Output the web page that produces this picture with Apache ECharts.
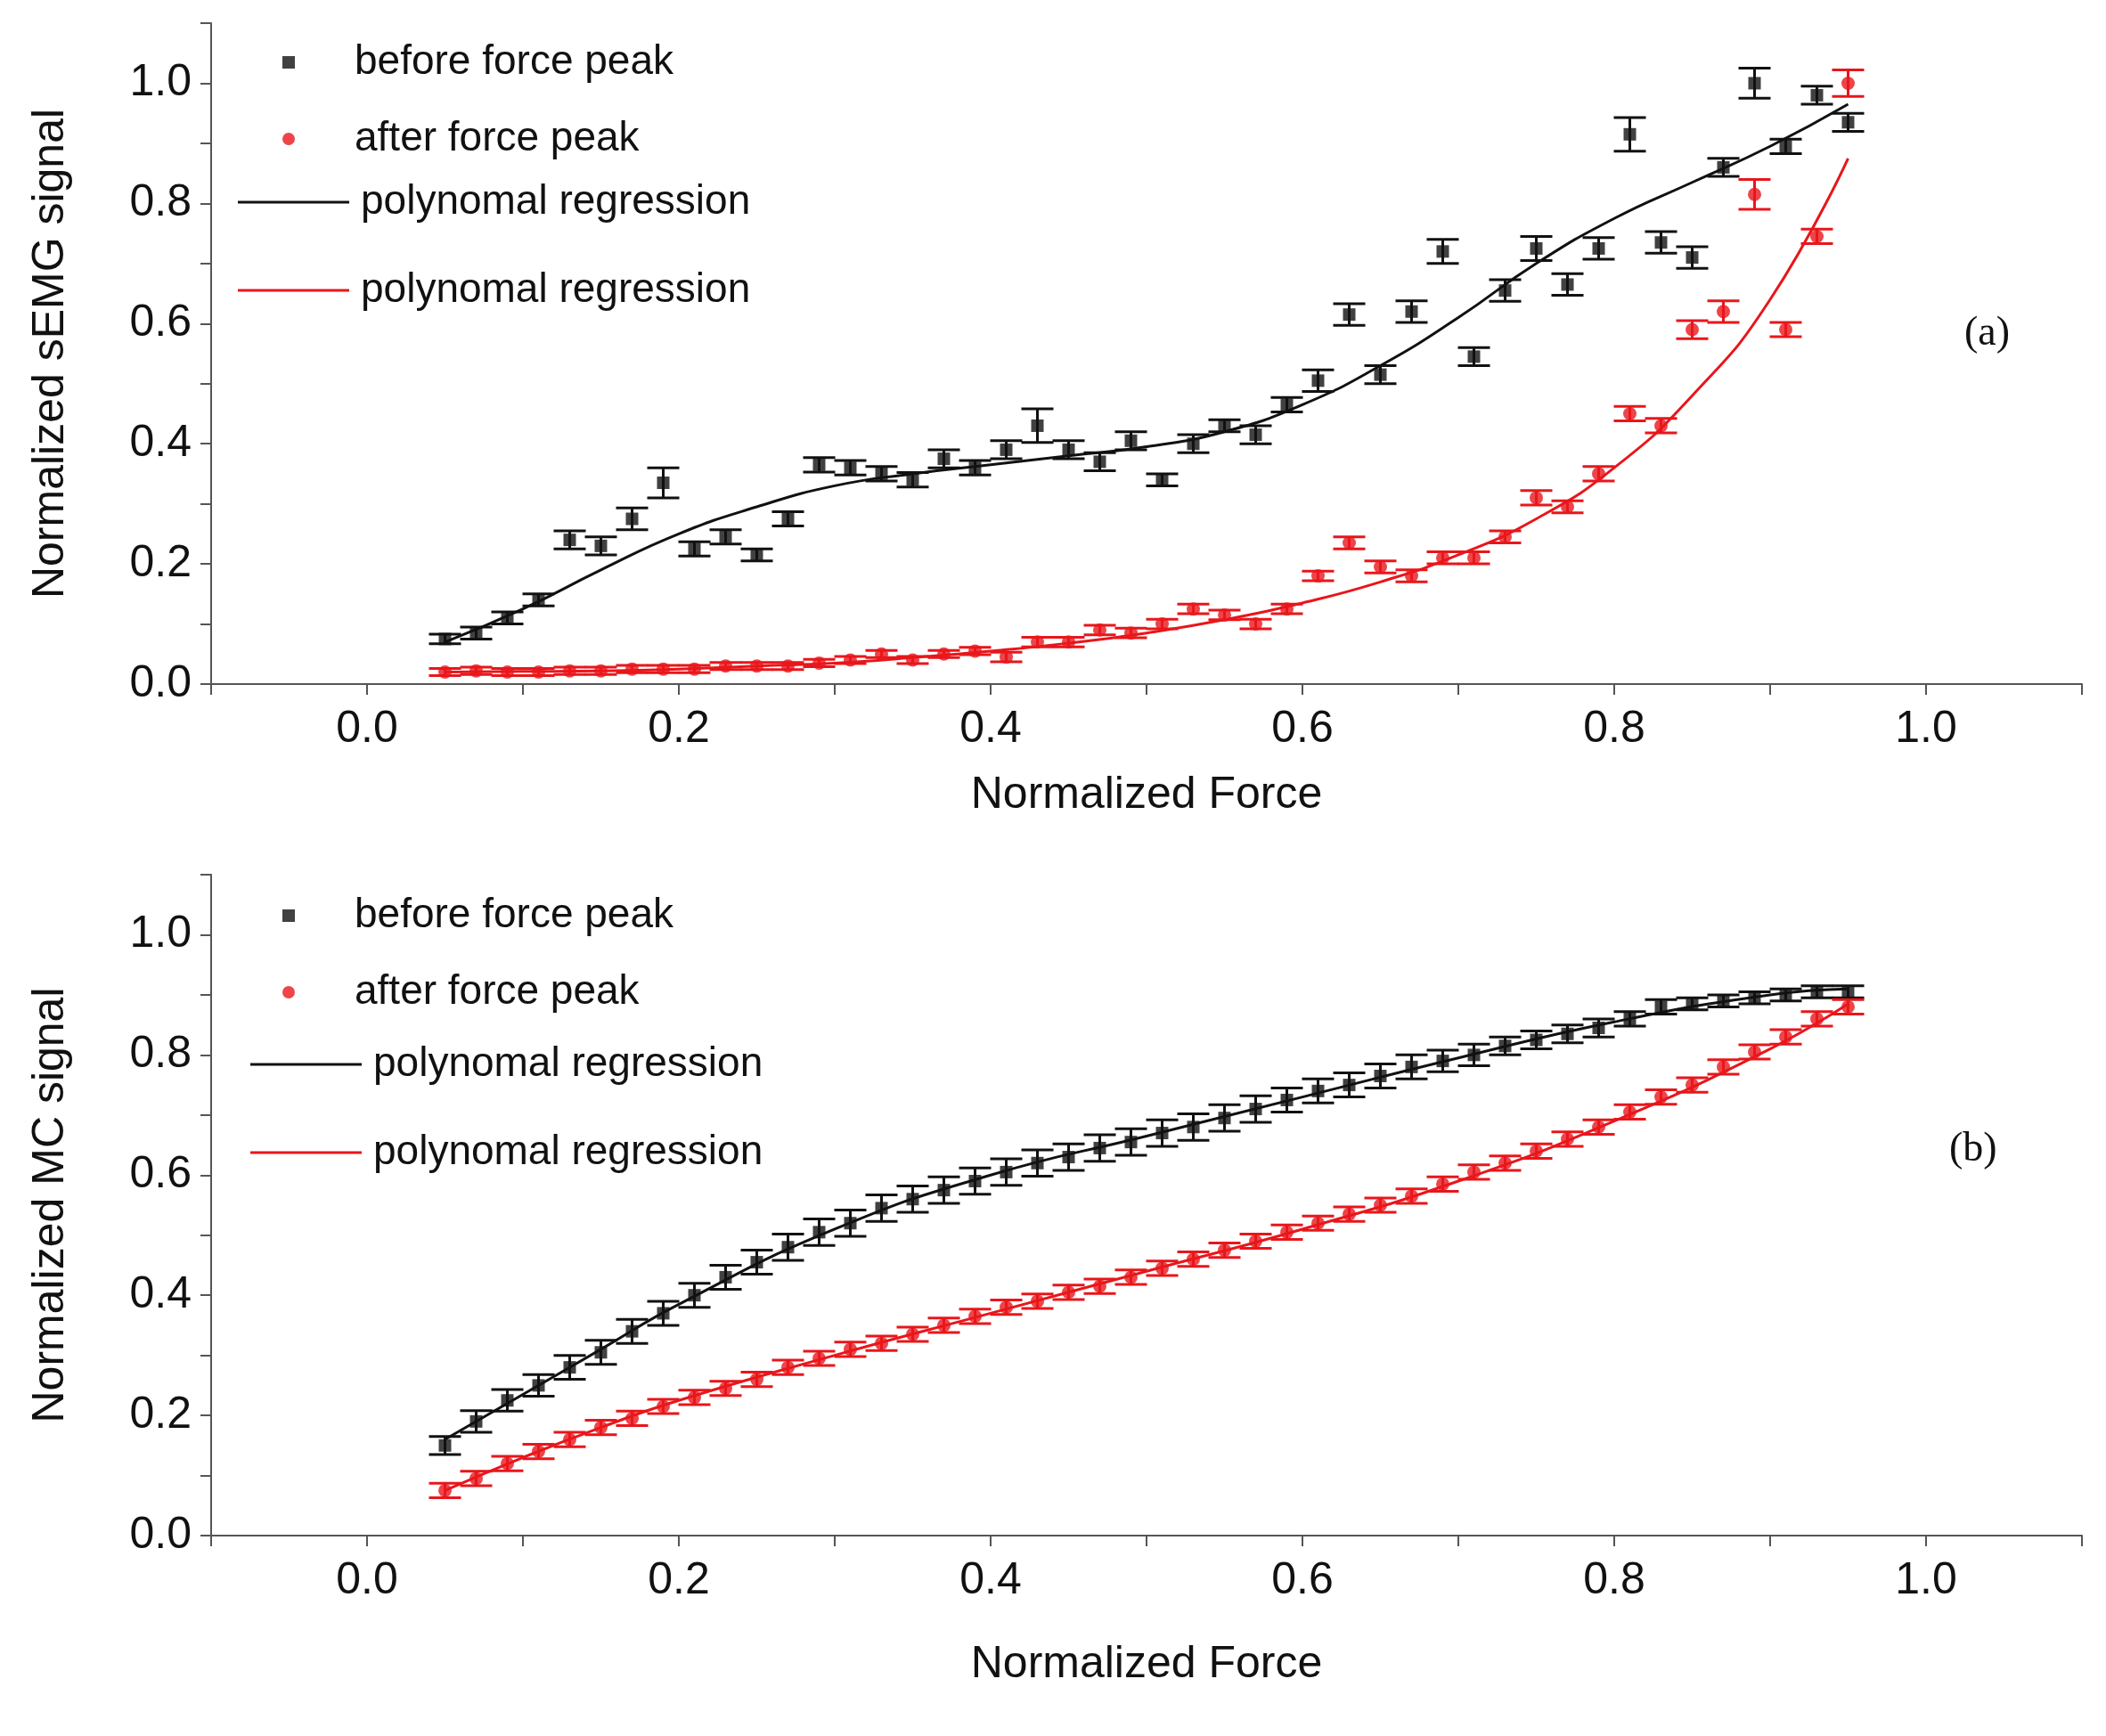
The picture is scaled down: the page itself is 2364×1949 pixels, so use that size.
<!DOCTYPE html>
<html>
<head>
<meta charset="utf-8">
<script src="https://cdn.jsdelivr.net/npm/echarts@6/dist/echarts.min.js"></script>
<style>html,body{margin:0;background:#fff}#chart{width:2364px;height:1949px}</style>
</head>
<body>
<div id="chart"></div>
<script>
var forceX = [0.05,0.07,0.09,0.11,0.13,0.15,0.17,0.19,0.21,0.23,0.25,0.27,0.29,0.31,0.33,0.35,0.37,0.39,0.41,0.43,0.45,0.47,0.49,0.51,0.53,0.55,0.57,0.59,0.61,0.63,0.65,0.67,0.69,0.71,0.73,0.75,0.77,0.79,0.81,0.83,0.85,0.87,0.89,0.91,0.93,0.95];

// panel (a) sEMG
var semgBefore = [0.075,0.085,0.11,0.14,0.24,0.23,0.275,0.335,0.225,0.245,0.215,0.275,0.365,0.36,0.35,0.34,0.375,0.36,0.39,0.43,0.39,0.37,0.405,0.34,0.40,0.43,0.415,0.465,0.505,0.615,0.515,0.62,0.72,0.545,0.655,0.725,0.665,0.725,0.915,0.735,0.71,0.86,1.0,0.895,0.98,0.935];
var semgBeforeErr = [0.008,0.01,0.01,0.01,0.015,0.015,0.018,0.025,0.012,0.012,0.01,0.012,0.012,0.012,0.012,0.012,0.015,0.012,0.015,0.028,0.015,0.015,0.015,0.01,0.015,0.01,0.015,0.012,0.018,0.018,0.015,0.018,0.02,0.015,0.018,0.02,0.018,0.018,0.028,0.018,0.018,0.015,0.025,0.012,0.015,0.015];
var semgAfter = [0.02,0.022,0.02,0.02,0.022,0.022,0.025,0.025,0.025,0.03,0.03,0.03,0.035,0.04,0.05,0.04,0.05,0.055,0.045,0.07,0.07,0.09,0.085,0.10,0.125,0.115,0.10,0.125,0.18,0.235,0.195,0.18,0.21,0.21,0.245,0.31,0.295,0.35,0.45,0.43,0.59,0.62,0.815,0.59,0.745,1.0];
var semgAfterErr = [0.006,0.006,0.006,0.006,0.006,0.006,0.006,0.006,0.006,0.006,0.006,0.006,0.006,0.006,0.006,0.006,0.006,0.006,0.008,0.008,0.008,0.008,0.008,0.008,0.008,0.008,0.008,0.008,0.008,0.01,0.01,0.01,0.01,0.01,0.01,0.012,0.01,0.012,0.012,0.012,0.015,0.018,0.025,0.012,0.012,0.022];
var semgFitX = [0.05,0.1,0.15,0.2,0.25,0.3,0.35,0.4,0.45,0.5,0.55,0.6,0.65,0.7,0.75,0.8,0.85,0.9,0.95];
var semgFitBefore = [0.07,0.125,0.19,0.25,0.295,0.33,0.35,0.365,0.38,0.395,0.42,0.465,0.53,0.61,0.70,0.775,0.835,0.895,0.965];
var semgFitAfter = [0.02,0.021,0.022,0.025,0.03,0.035,0.044,0.055,0.068,0.085,0.107,0.135,0.17,0.215,0.275,0.36,0.48,0.64,0.875];

// panel (b) MC
var mcBefore = [0.15,0.19,0.225,0.25,0.28,0.305,0.34,0.37,0.40,0.43,0.455,0.48,0.505,0.52,0.545,0.56,0.575,0.59,0.605,0.62,0.63,0.645,0.655,0.67,0.68,0.695,0.71,0.725,0.74,0.75,0.765,0.78,0.79,0.80,0.815,0.825,0.835,0.845,0.86,0.88,0.885,0.89,0.895,0.90,0.905,0.905];
var mcAfter = [0.075,0.095,0.12,0.14,0.16,0.18,0.195,0.215,0.23,0.245,0.26,0.28,0.295,0.31,0.32,0.335,0.35,0.365,0.38,0.39,0.405,0.415,0.43,0.445,0.46,0.475,0.49,0.505,0.52,0.535,0.55,0.565,0.585,0.605,0.62,0.64,0.66,0.68,0.705,0.73,0.75,0.78,0.805,0.83,0.86,0.88];
var mcErr = [0.015,0.018,0.018,0.018,0.02,0.02,0.02,0.02,0.02,0.02,0.02,0.022,0.022,0.022,0.022,0.022,0.022,0.022,0.022,0.022,0.022,0.022,0.022,0.022,0.022,0.022,0.022,0.02,0.02,0.02,0.02,0.02,0.018,0.018,0.015,0.015,0.015,0.015,0.012,0.012,0.01,0.01,0.01,0.01,0.01,0.01];
var mcAfterErr = 0.012;
var mcFitX = [0.05,0.1,0.15,0.2,0.3,0.4,0.5,0.6,0.7,0.8,0.9,0.95];
var mcFitBefore = [0.16,0.235,0.31,0.385,0.51,0.6,0.665,0.73,0.795,0.855,0.9,0.91];
var mcFitAfter = [0.075,0.13,0.18,0.225,0.3,0.37,0.44,0.51,0.59,0.69,0.81,0.885];

var pointNames = ['before force peak','after force peak'];
var fitNames = ['polynomal regression','polynomal regression '];

function pts(xs, ys) { return xs.map(function (x, i) { return [x, ys[i]]; }); }
function errPts(ys, err) {
    return forceX.map(function (x, i) {
        var e = Array.isArray(err) ? err[i] : err;
        return [x, ys[i] - e, ys[i] + e];
    });
}
function errSeries(idx, ys, err, color) {
    return {
        type: 'custom', xAxisIndex: idx, yAxisIndex: idx, silent: true, z: 3,
        data: errPts(ys, err),
        renderItem: function (params, api) {
            var lo = api.coord([api.value(0), api.value(1)]);
            var hi = api.coord([api.value(0), api.value(2)]);
            var w = 18;
            var st = { stroke: color, lineWidth: 3 };
            return { type: 'group', children: [
                { type: 'line', shape: { x1: lo[0], y1: lo[1], x2: hi[0], y2: hi[1] }, style: st },
                { type: 'line', shape: { x1: lo[0] - w, y1: lo[1], x2: lo[0] + w, y2: lo[1] }, style: st },
                { type: 'line', shape: { x1: hi[0] - w, y1: hi[1], x2: hi[0] + w, y2: hi[1] }, style: st }
            ]};
        }
    };
}

var font = 'Liberation Sans';
var tickStyle = { color: '#555', width: 2 };
function xAx(idx) {
    return {
        type: 'value', gridIndex: idx, min: -0.1, max: 1.1, interval: 0.1,
        name: 'Normalized Force', nameLocation: 'middle', nameGap: idx === 0 ? 100 : 120,
        nameTextStyle: { fontSize: 50, color: '#111', fontFamily: font },
        axisLine: { onZero: false, lineStyle: tickStyle },
        axisTick: { length: 12, lineStyle: tickStyle },
        axisLabel: { fontSize: 50, color: '#111', fontFamily: font, margin: 26,
            formatter: function (v) {
                var k = Math.round(v * 10);
                return (k < 0 || k > 10 || k % 2) ? '' : (k / 10).toFixed(1);
            } },
        splitLine: { show: false }
    };
}
function yAx(idx, title) {
    return {
        type: 'value', gridIndex: idx, min: 0, max: 1.1, interval: 0.1,
        name: title, nameLocation: 'middle', nameGap: 155,
        nameTextStyle: { fontSize: 50, color: '#111', fontFamily: font },
        axisLine: { show: true, onZero: false, lineStyle: tickStyle },
        axisTick: { show: true, length: 12, lineStyle: tickStyle },
        axisLabel: { fontSize: 50, color: '#111', fontFamily: font, margin: 22,
            formatter: function (v) {
                var k = Math.round(v * 10);
                return (k > 10 || k % 2) ? '' : (k / 10).toFixed(1);
            } },
        splitLine: { show: false }
    };
}
function pointLegend(top) {
    return {
        data: [{ name: pointNames[0], icon: 'rect' }, { name: pointNames[1], icon: 'circle' }],
        orient: 'vertical', left: 312, top: top,
        itemWidth: 14, itemHeight: 14, itemGap: 40,
        textStyle: { fontSize: 46, color: '#111', fontFamily: font, padding: [0, 0, 0, 62] }
    };
}
function fitLegend(top, left) {
    return {
        data: fitNames.map(function (n) { return { name: n, icon: 'rect' }; }),
        orient: 'vertical', left: left, top: top,
        itemWidth: 125, itemHeight: 3, itemGap: 53,
        textStyle: { fontSize: 46, color: '#111', fontFamily: font, padding: [0, 0, 0, 8] }
    };
}

var chart = echarts.init(document.getElementById('chart'));
var option = {
    backgroundColor: '#fff',
    animation: false,
    grid: [
        { left: 237, right: 27, top: 26, height: 742 },
        { left: 237, right: 27, top: 982, height: 742 }
    ],
    legend: [pointLegend(42), fitLegend(199, 262), pointLegend(1000), fitLegend(1167, 276)],
    xAxis: [xAx(0), xAx(1)],
    yAxis: [yAx(0, 'Normalized sEMG signal'), yAx(1, 'Normalized MC signal')],
    graphic: [
        { type: 'text', left: 2205, top: 352, style: { text: '(a)', fontSize: 46, fontFamily: 'Liberation Serif', fill: '#111' } },
        { type: 'text', left: 2188, top: 1268, style: { text: '(b)', fontSize: 46, fontFamily: 'Liberation Serif', fill: '#111' } }
    ],
    series: [
        errSeries(0, semgBefore, semgBeforeErr, '#111'),
        errSeries(0, semgAfter, semgAfterErr, '#e8161b'),
        { name: pointNames[0], type: 'scatter', xAxisIndex: 0, yAxisIndex: 0, symbol: 'rect', symbolSize: 14, itemStyle: { color: '#111' }, data: pts(forceX, semgBefore), z: 4 },
        { name: pointNames[1], type: 'scatter', xAxisIndex: 0, yAxisIndex: 0, symbol: 'circle', symbolSize: 15, itemStyle: { color: '#e8161b' }, data: pts(forceX, semgAfter), z: 4 },
        { name: fitNames[0], type: 'line', xAxisIndex: 0, yAxisIndex: 0, smooth: true, symbol: 'none', lineStyle: { color: '#111', width: 3 }, itemStyle: { color: '#111' }, data: pts(semgFitX, semgFitBefore) },
        { name: fitNames[1], type: 'line', xAxisIndex: 0, yAxisIndex: 0, smooth: true, symbol: 'none', lineStyle: { color: '#e8161b', width: 3 }, itemStyle: { color: '#e8161b' }, data: pts(semgFitX, semgFitAfter) },

        errSeries(1, mcBefore, mcErr, '#111'),
        errSeries(1, mcAfter, mcAfterErr, '#e8161b'),
        { name: pointNames[0], type: 'scatter', xAxisIndex: 1, yAxisIndex: 1, symbol: 'rect', symbolSize: 14, itemStyle: { color: '#111' }, data: pts(forceX, mcBefore), z: 4 },
        { name: pointNames[1], type: 'scatter', xAxisIndex: 1, yAxisIndex: 1, symbol: 'circle', symbolSize: 15, itemStyle: { color: '#e8161b' }, data: pts(forceX, mcAfter), z: 4 },
        { name: fitNames[0], type: 'line', xAxisIndex: 1, yAxisIndex: 1, smooth: true, symbol: 'none', lineStyle: { color: '#111', width: 3 }, itemStyle: { color: '#111' }, data: pts(mcFitX, mcFitBefore) },
        { name: fitNames[1], type: 'line', xAxisIndex: 1, yAxisIndex: 1, smooth: true, symbol: 'none', lineStyle: { color: '#e8161b', width: 3 }, itemStyle: { color: '#e8161b' }, data: pts(mcFitX, mcFitAfter) }
    ]
};
chart.setOption(option);
</script>
</body>
</html>
